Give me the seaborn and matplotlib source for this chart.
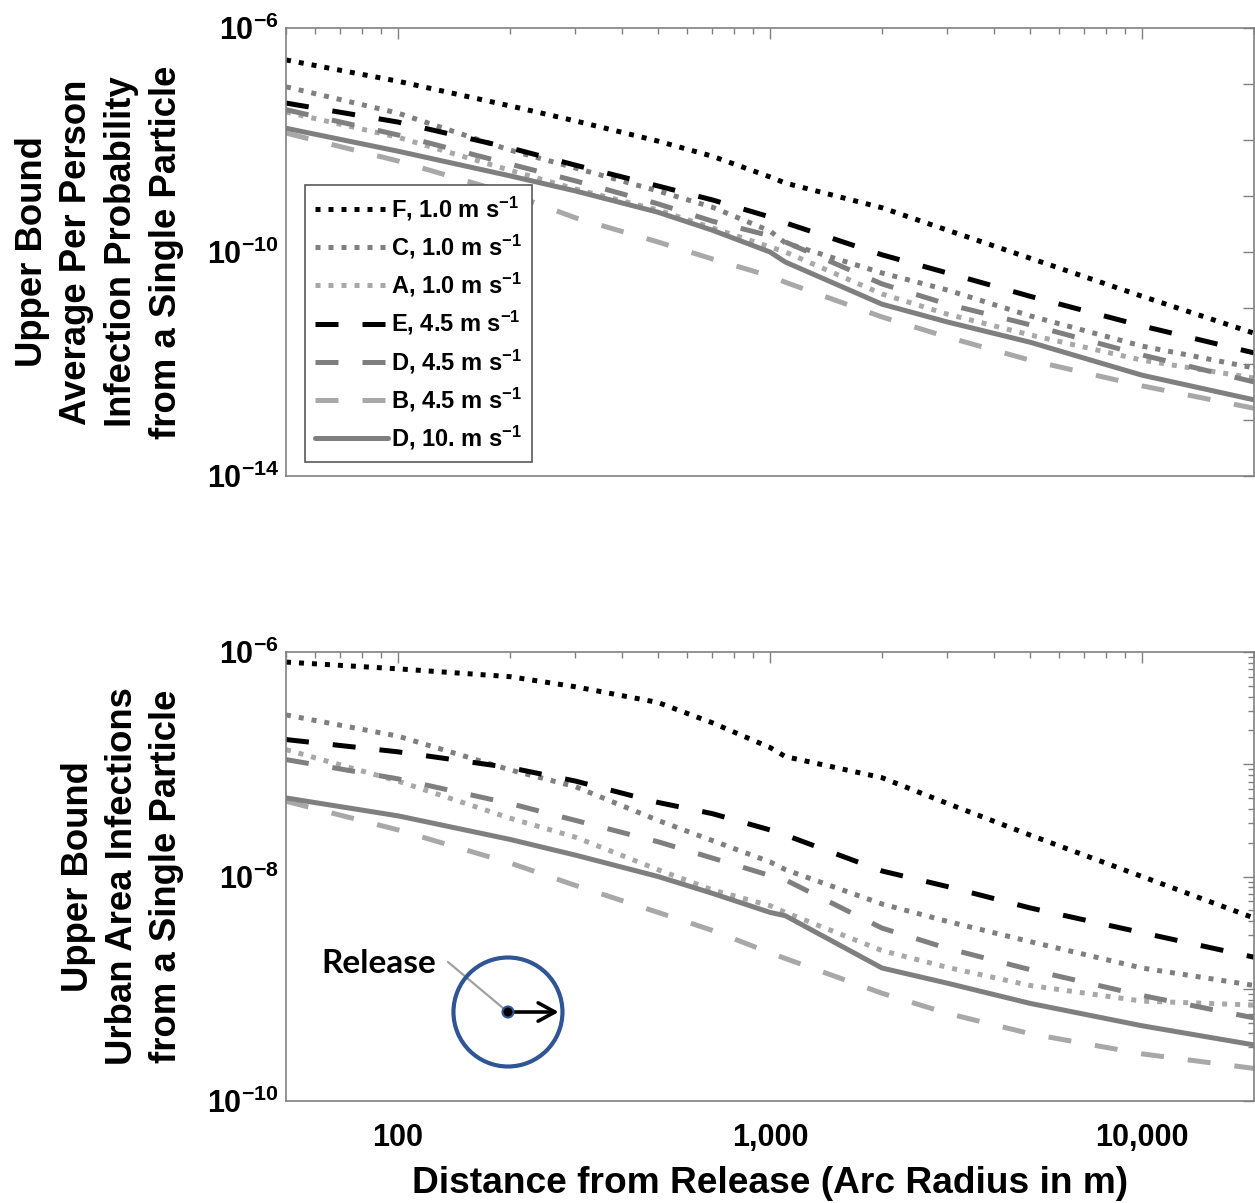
import numpy as np
import pandas as pd
import matplotlib
matplotlib.use("Agg")
import matplotlib.pyplot as plt
import seaborn as sns
from matplotlib.patches import Circle, FancyArrowPatch
from matplotlib.lines import Line2D
from matplotlib.transforms import ScaledTranslation
from matplotlib.ticker import LogLocator, FuncFormatter, NullLocator, FixedLocator

# ---------------------------------------------------------------- data
radius_m = [50, 100, 200, 300, 500, 700, 1000, 1100, 2000, 3000, 5000, 10000, 20000]

cases = [
    "F, 1.0 m s$^{-1}$",
    "C, 1.0 m s$^{-1}$",
    "A, 1.0 m s$^{-1}$",
    "E, 4.5 m s$^{-1}$",
    "D, 4.5 m s$^{-1}$",
    "B, 4.5 m s$^{-1}$",
    "D, 10. m s$^{-1}$",
]

# average per-person infection probability from a single particle
prob_F1 = [2.69e-7, 1.12e-7, 4.07e-8, 2.19e-8, 9.55e-9, 5.13e-9, 2.19e-9, 1.70e-9,
           6.17e-10, 2.45e-10, 7.76e-11, 1.62e-11, 3.55e-12]
prob_C1 = [8.91e-8, 3.02e-8, 6.61e-9, 3.16e-9, 1.23e-9, 6.31e-10, 2.37e-10, 1.45e-10,
           4.22e-11, 2.09e-11, 7.24e-12, 2.09e-12, 8.51e-13]
prob_A1 = [3.16e-8, 1.12e-8, 2.88e-9, 1.33e-9, 5.62e-10, 2.69e-10, 1.23e-10, 1.00e-10,
           1.78e-11, 7.76e-12, 3.31e-12, 1.17e-12, 5.62e-13]
prob_E45 = [4.57e-8, 2.09e-8, 7.24e-9, 3.55e-9, 1.51e-9, 8.51e-10, 4.22e-10, 3.31e-10,
            8.91e-11, 4.22e-11, 1.62e-11, 4.79e-12, 1.58e-12]
prob_D45 = [3.47e-8, 1.23e-8, 3.72e-9, 1.86e-9, 7.24e-10, 3.55e-10, 1.95e-10, 1.51e-10,
            2.69e-11, 1.17e-11, 5.01e-12, 1.45e-12, 4.79e-13]
prob_B45 = [1.33e-8, 4.22e-9, 1.10e-9, 4.07e-10, 1.51e-10, 7.50e-11, 3.72e-11, 2.88e-11,
            6.92e-12, 3.02e-12, 1.17e-12, 4.07e-13, 1.62e-13]
prob_D10 = [1.62e-8, 6.31e-9, 2.29e-9, 1.23e-9, 5.13e-10, 2.45e-10, 1.00e-10, 6.61e-11,
            1.17e-11, 5.62e-12, 2.45e-12, 6.31e-13, 2.29e-13]

# urban-area infections from a single particle
urban_F1 = [8.13e-7, 7.08e-7, 6.03e-7, 4.90e-7, 3.55e-7, 2.34e-7, 1.41e-7, 1.17e-7,
            7.59e-8, 4.47e-8, 2.34e-8, 1.00e-8, 4.27e-9]
urban_C1 = [2.75e-7, 1.78e-7, 8.91e-8, 6.31e-8, 3.16e-8, 2.09e-8, 1.35e-8, 1.15e-8,
            5.69e-9, 3.98e-9, 2.63e-9, 1.53e-9, 1.07e-9]
urban_A1 = [1.35e-7, 7.08e-8, 3.31e-8, 2.24e-8, 1.15e-8, 7.59e-9, 5.50e-9, 4.79e-9,
            2.19e-9, 1.55e-9, 1.07e-9, 7.76e-10, 7.16e-10]
urban_E45 = [1.66e-7, 1.29e-7, 9.33e-8, 7.08e-8, 4.57e-8, 3.63e-8, 2.60e-8, 2.34e-8,
             1.12e-8, 8.13e-9, 5.25e-9, 3.16e-9, 1.91e-9]
urban_D45 = [1.10e-7, 7.41e-8, 4.47e-8, 3.16e-8, 2.04e-8, 1.46e-8, 1.02e-8, 9.33e-9,
             3.47e-9, 2.29e-9, 1.48e-9, 8.71e-10, 5.50e-10]
urban_B45 = [4.68e-8, 2.60e-8, 1.32e-8, 8.32e-9, 4.79e-9, 3.31e-9, 2.09e-9, 1.86e-9,
             9.12e-10, 6.03e-10, 3.98e-10, 2.63e-10, 1.95e-10]
urban_D10 = [5.01e-8, 3.47e-8, 2.14e-8, 1.55e-8, 1.00e-8, 7.08e-9, 4.79e-9, 4.47e-9,
             1.53e-9, 1.12e-9, 7.41e-10, 4.68e-10, 3.16e-10]

top_series = [prob_F1, prob_C1, prob_A1, prob_E45, prob_D45, prob_B45, prob_D10]
bottom_series = [urban_F1, urban_C1, urban_A1, urban_E45, urban_D45, urban_B45, urban_D10]

top_ylabel = "Upper Bound\nAverage Per Person\nInfection Probability\nfrom a Single Particle"
bottom_ylabel = "Upper Bound\nUrban Area Infections\nfrom a Single Particle"
xlabel = "Distance from Release (Arc Radius in m)"


def long_table(series):
    rows = []
    for name, vals in zip(cases, series):
        for r, v in zip(radius_m, vals):
            rows.append({"radius": r, "value": v, "case": name})
    return pd.DataFrame(rows)


df_top = long_table(top_series)
df_bot = long_table(bottom_series)

# ---------------------------------------------------------------- style
sns.set_theme(style="white")
plt.rcParams.update({
    "font.family": ["Liberation Sans", "DejaVu Sans"],
    "font.weight": "bold",
    "text.color": "black",
    "axes.labelcolor": "black",
    "xtick.labelcolor": "black",
    "ytick.labelcolor": "black",
    "mathtext.fontset": "custom",
    "mathtext.rm": "Liberation Sans:bold",
    "mathtext.bf": "Liberation Sans:bold",
    "mathtext.it": "Liberation Sans:bold",
    "mathtext.default": "bf",
    "axes.edgecolor": "#808080",
    "axes.linewidth": 1.2,
})

BLACK, MID, LIGHT = "#000000", "#7f7f7f", "#a8a8a8"
palette = dict(zip(cases, [BLACK, MID, LIGHT, BLACK, MID, LIGHT, MID]))
DOT, DASH = (1, 1.6), (4.6, 4.8)
dashes = dict(zip(cases, [DOT, DOT, DOT, DASH, DASH, DASH, ""]))
LW = 3.6

W, H = 1255, 1203
fig = plt.figure(figsize=(W / 100, H / 100), dpi=100)
left_px, right_px = 286, 1254
ax_top = fig.add_axes([left_px / W, 1 - 476 / H, (right_px - left_px) / W, 448 / H])
ax_bot = fig.add_axes([left_px / W, 1 - 1101 / H, (right_px - left_px) / W, 449 / H])

for ax, df in ((ax_top, df_top), (ax_bot, df_bot)):
    sns.lineplot(data=df, x="radius", y="value", hue="case", style="case",
                 hue_order=cases, style_order=cases, palette=palette,
                 dashes=dashes, linewidth=LW, estimator=None, errorbar=None,
                 sort=True, ax=ax, legend=(ax is ax_top))
    for line in ax.lines:
        line.set_linewidth(LW)
    ax.set_xscale("log")
    ax.set_yscale("log")
    ax.set_xlim(50, 20000)
    ax.set_xlabel("")
    ax.set_ylabel("")
    ax.xaxis.set_major_locator(FixedLocator([100, 1000, 10000]))
    ax.xaxis.set_minor_locator(LogLocator(base=10, subs=np.arange(2, 10), numticks=30))
    ax.xaxis.set_major_formatter(FuncFormatter(lambda v, p: f"{int(round(v)):,}"))
    ax.tick_params(which="both", direction="in", top=True, right=True,
                   color="#808080", labelcolor="black", width=1.0, labelsize=22)
    ax.tick_params(which="major", length=8)
    ax.tick_params(which="minor", length=4.5)
    ax.tick_params(axis="x", pad=16)
    ax.tick_params(axis="y", pad=5)
    for sp in ax.spines.values():
        sp.set_color("#808080")
        sp.set_linewidth(1.2)


def decade_formatter(shown):
    def fmt(v, p):
        e = int(round(np.log10(v)))
        return r"$\mathbf{10^{%d}}$" % e if e in shown else ""
    return FuncFormatter(fmt)


# upper panel: per-person probability
ax_top.set_ylim(1e-14, 1e-6)
ax_top.yaxis.set_major_locator(FixedLocator([10.0 ** e for e in range(-14, -5)]))
ax_top.yaxis.set_minor_locator(NullLocator())
ax_top.yaxis.set_major_formatter(decade_formatter({-6, -10, -14}))
ax_top.tick_params(axis="x", labelbottom=False)

# lower panel: urban-area infections
ax_bot.set_ylim(1e-10, 1e-6)
ax_bot.yaxis.set_major_locator(FixedLocator([10.0 ** e for e in range(-10, -5)]))
ax_bot.yaxis.set_minor_locator(LogLocator(base=10, subs=np.arange(2, 10), numticks=30))
ax_bot.yaxis.set_major_formatter(decade_formatter({-6, -8, -10}))
ax_bot.set_xlabel(xlabel, fontsize=26.7, fontweight="bold", color="black", labelpad=9)

# legend
handles, labels = ax_top.get_legend_handles_labels()
leg = ax_top.legend(handles, labels, loc="upper left",
                    bbox_to_anchor=((305 - left_px) / (right_px - left_px), (476 - 185) / 448),
                    borderaxespad=0, fontsize=17, handlelength=3.1, handletextpad=0.12,
                    labelspacing=0.42, borderpad=0.42, fancybox=False, framealpha=1,
                    edgecolor="#595959")
leg.get_frame().set_linewidth(1.2)
for line in leg.get_lines():
    line.set_linewidth(LW)

# axis titles
ax_top.text(-0.193, 0.5, top_ylabel, transform=ax_top.transAxes, rotation=90,
            ha="center", va="center", multialignment="center", fontsize=26.3,
            fontweight="bold", color="black", linespacing=1.36)
ax_bot.text(-0.169, 0.5, bottom_ylabel, transform=ax_bot.transAxes, rotation=90,
            ha="center", va="center", multialignment="center", fontsize=26.3,
            fontweight="bold", color="black", linespacing=1.33)

# release sketch: source point, arc circle and radius arrow (sizes in inches)
origin = fig.dpi_scale_trans + ScaledTranslation(0.2293, 0.1982, ax_bot.transAxes)
ax_bot.add_line(Line2D([-0.6, -0.05], [0.5, 0.04], transform=origin, color="#a0a0a0",
                       lw=1.6, zorder=5, clip_on=False))
ax_bot.add_patch(Circle((0, 0), 0.545, transform=origin, fill=False,
                        edgecolor="#2f5597", lw=3.0, zorder=6, clip_on=False))
ax_bot.add_patch(FancyArrowPatch((0.02, 0), (0.535, 0), transform=origin,
                                 arrowstyle="->,head_length=0.55,head_width=0.3",
                                 mutation_scale=22, lw=2.6, color="black",
                                 zorder=7, clip_on=False))
ax_bot.add_patch(Circle((0, 0), 0.055, transform=origin, facecolor="black",
                        edgecolor="#2f5597", lw=1.5, zorder=8, clip_on=False))
ax_bot.text(-1.29, 0.49, "Release", transform=origin, ha="center", va="center",
            fontsize=24, fontweight="bold", color="black",
            family=["Lato", "DejaVu Sans"], zorder=8)

fig.savefig("out.png", dpi=100)
